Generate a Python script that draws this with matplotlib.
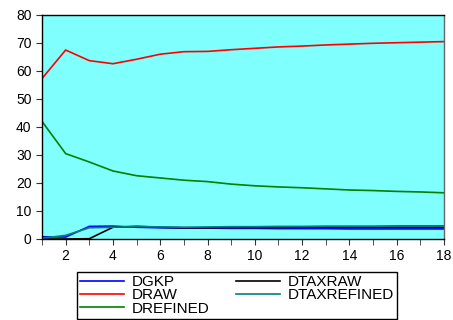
import matplotlib
matplotlib.use("Agg")
import matplotlib.pyplot as plt
from matplotlib.ticker import MultipleLocator
import numpy as np

plt.rcParams["font.family"] = ["Liberation Sans", "DejaVu Sans"]

periods = np.arange(1, 19)

dgkp = [0.8, 0.7, 4.5, 4.6, 4.2, 4.0, 3.9, 3.9, 3.8, 3.8, 3.7, 3.7, 3.7, 3.6, 3.6, 3.6, 3.6, 3.6]
draw = [57.3, 67.5, 63.7, 62.6, 64.2, 66.0, 66.9, 67.0, 67.6, 68.1, 68.6, 68.9, 69.3, 69.6, 69.9, 70.1, 70.3, 70.5]
drefined = [42.0, 30.5, 27.5, 24.3, 22.6, 21.8, 21.0, 20.5, 19.6, 19.0, 18.6, 18.3, 17.9, 17.5, 17.3, 17.0, 16.8, 16.5]
dtaxraw = [0.0, 0.0, 0.1, 4.2, 4.5, 4.2, 4.0, 4.0, 4.1, 4.1, 4.1, 4.2, 4.2, 4.2, 4.2, 4.2, 4.2, 4.2]
dtaxrefined = [0.3, 1.3, 4.0, 4.2, 4.5, 4.3, 4.2, 4.3, 4.4, 4.4, 4.5, 4.5, 4.6, 4.6, 4.6, 4.7, 4.7, 4.7]

fig = plt.figure(figsize=(4.53, 3.2), dpi=100)
ax = fig.add_axes([42 / 453, 1 - 239 / 320, (444 - 42) / 453, (239 - 15) / 320])
ax.set_facecolor("#80FFFF")

lw = 1.2
ax.plot(periods, dgkp, color="#0000FF", lw=lw, label="DGKP")
ax.plot(periods, draw, color="#FF0000", lw=lw, label="DRAW")
ax.plot(periods, drefined, color="#008000", lw=lw, label="DREFINED")
ax.plot(periods, dtaxraw, color="#000000", lw=lw, label="DTAXRAW")
ax.plot(periods, dtaxrefined, color="#008080", lw=lw, label="DTAXREFINED")

ax.set_xlim(1, 18)
ax.set_ylim(0, 80)
ax.xaxis.set_major_locator(MultipleLocator(2))
ax.xaxis.set_minor_locator(MultipleLocator(1))
ax.yaxis.set_major_locator(MultipleLocator(10))
ax.tick_params(axis="both", which="both", direction="out", labelsize=10, color="#333333")
ax.tick_params(axis="both", which="major", length=4)
ax.tick_params(axis="x", which="minor", length=4)
for s in ax.spines.values():
    s.set_color("#000000")
    s.set_linewidth(1.0)
ax.spines["right"].set_color("#666666")

fig.legend(loc="upper left", bbox_to_anchor=(77 / 453, 1 - 272 / 320), ncol=2,
           fontsize=11, frameon=True, fancybox=False, edgecolor="#000000",
           handlelength=2.9, columnspacing=1.7, labelspacing=-0.05,
           borderpad=0.2, borderaxespad=0, handletextpad=0.5, framealpha=1)

fig.savefig("out.png", dpi=100)
